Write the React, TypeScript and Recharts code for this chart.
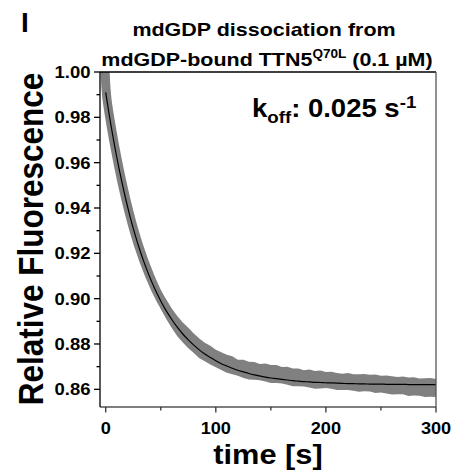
import React from 'react';
import { ComposedChart, Line, Area, XAxis, YAxis, ReferenceLine } from 'recharts';

const FONT = '"Liberation Sans", Arial, Helvetica, sans-serif';

// time [s]
const timeS = [
  -1, -0.5, 0, 1, 2, 3, 4, 6, 8, 10, 12, 15, 18, 21, 24, 27, 30, 35, 40, 45, 50,
  55, 60, 65, 70, 75, 80, 85, 90, 95, 100, 105, 110, 115, 120, 125, 130, 135, 140,
  145, 150, 155, 160, 165, 170, 175, 180, 185, 190, 195, 200, 205, 210, 215, 220,
  225, 230, 235, 240, 245, 250, 255, 260, 265, 270, 275, 280, 285, 290, 295, 300,
];

// measured fluorescence band (lower / upper edge of the grey trace)
const fluoLow = [
  1.0052, 0.9992, 0.9937, 0.9877, 0.9842, 0.981, 0.978, 0.9723, 0.9669, 0.9618, 0.9569,
  0.9499, 0.9434, 0.9373, 0.9316, 0.9262, 0.9212, 0.9136, 0.9068, 0.9008, 0.8955,
  0.891, 0.8871, 0.8834, 0.8807, 0.8781, 0.876, 0.8737, 0.8724, 0.8709, 0.8697,
  0.8685, 0.8673, 0.8666, 0.866, 0.865, 0.8643, 0.8642, 0.864, 0.8634, 0.8628,
  0.8628, 0.8626, 0.862, 0.8613, 0.8613, 0.8612, 0.8608, 0.8602, 0.8604, 0.8606,
  0.8602, 0.8597, 0.8597, 0.8597, 0.8594, 0.8589, 0.8591, 0.859, 0.8584, 0.8586,
  0.8582, 0.8577, 0.8578, 0.8578, 0.8571, 0.8573, 0.8572, 0.8566, 0.8567, 0.8566,
];
const fluoHigh = [
  1.0068, 1.0008, 0.9953, 0.9893, 0.9858, 0.9826, 0.9796, 0.9739, 0.9685, 0.9634, 0.9585,
  0.9517, 0.9454, 0.9397, 0.9344, 0.9296, 0.9252, 0.9188, 0.9132, 0.908, 0.9035,
  0.8996, 0.8957, 0.8924, 0.8895, 0.8872, 0.8846, 0.8824, 0.8806, 0.8792, 0.8775,
  0.8764, 0.8752, 0.8746, 0.8731, 0.8731, 0.8722, 0.8721, 0.8712, 0.8714, 0.8707,
  0.8707, 0.8698, 0.87, 0.8692, 0.8692, 0.8684, 0.8687, 0.8681, 0.8683, 0.8676,
  0.8677, 0.8672, 0.8669, 0.8672, 0.8666, 0.8666, 0.8668, 0.8664, 0.8665, 0.866,
  0.8661, 0.8658, 0.8654, 0.8657, 0.8652, 0.8653, 0.8648, 0.8649, 0.865, 0.8645,
];
// single-exponential fit (black line)
const fitValues: (number | null)[] = [
  null, null, 0.991, 0.9878, 0.9847, 0.9817, 0.9787, 0.973, 0.9676, 0.9625, 0.9576,
  0.9507, 0.9443, 0.9383, 0.9328, 0.9277, 0.9229, 0.9158, 0.9095, 0.9039, 0.899,
  0.8946, 0.8908, 0.8874, 0.8844, 0.8818, 0.8795, 0.8774, 0.8756, 0.874, 0.8726,
  0.8713, 0.8703, 0.8693, 0.8684, 0.8677, 0.867, 0.8664, 0.8659, 0.8654, 0.865,
  0.8647, 0.8644, 0.8641, 0.8638, 0.8636, 0.8634, 0.8633, 0.8631, 0.863, 0.8629,
  0.8628, 0.8627, 0.8626, 0.8625, 0.8625, 0.8624, 0.8624, 0.8623, 0.8623, 0.8623,
  0.8622, 0.8622, 0.8622, 0.8622, 0.8621, 0.8621, 0.8621, 0.8621, 0.8621, 0.8621,
];

const xTicks = [0, 50, 100, 150, 200, 250, 300];
const yTicks = [0.86, 0.87, 0.88, 0.89, 0.9, 0.91, 0.92, 0.93, 0.94, 0.95, 0.96, 0.97, 0.98, 0.99, 1.0];

const data = timeS.map((t, i) => ({
  t,
  mid: (fluoLow[i] + fluoHigh[i]) / 2,
  range: [fluoLow[i], fluoHigh[i]],
  fit: fitValues[i],
}));

function YTick(props: any) {
  const { x, y, payload } = props;
  const v = payload.value as number;
  const major = Math.round(v * 100) % 2 === 0;
  return (
    <g>
      <line x1={x} x2={x - (major ? 6 : 3.5)} y1={y} y2={y} stroke="#000" strokeWidth={1.3} />
      {major && (
        <text
          transform={`translate(${x - 9.5},${y}) scale(1.12,1)`}
          textAnchor="end"
          dy="0.36em"
          fontSize={16.5}
          fontWeight="bold"
          fontFamily={FONT}
          fill="#000"
        >
          {v.toFixed(2)}
        </text>
      )}
    </g>
  );
}

function XTick(props: any) {
  const { x, y, payload } = props;
  const v = payload.value as number;
  const major = v % 100 === 0;
  return (
    <g>
      <line x1={x} x2={x} y1={y} y2={y + (major ? 5.5 : 3.5)} stroke="#333" strokeWidth={1.3} />
      {major && (
        <text
          transform={`translate(${x},${y + 27}) scale(1.1,1)`}
          textAnchor="middle"
          fontSize={16.5}
          fontWeight="bold"
          fontFamily={FONT}
          fill="#000"
        >
          {v}
        </text>
      )}
    </g>
  );
}

export default function App() {
  return (
    <div style={{ position: 'absolute', left: 0, top: 0, width: 470, height: 472, background: '#fff' }}>
      <ComposedChart
        width={470}
        height={472}
        data={data}
        margin={{ top: 72, right: 34, bottom: 0, left: 0 }}
      >
        <XAxis
          type="number"
          dataKey="t"
          domain={[-5.2, 300]}
          ticks={xTicks}
          interval={0}
          allowDataOverflow
          height={65}
          tickSize={0}
          tickMargin={0}
          tickLine={false}
          axisLine={{ stroke: '#555', strokeWidth: 1.3 }}
          tick={(p: any) => <XTick {...p} />}
        />
        <YAxis
          type="number"
          domain={[0.8522, 1.0]}
          ticks={yTicks}
          interval={0}
          allowDataOverflow
          width={100}
          tickSize={0}
          tickMargin={0}
          tickLine={false}
          axisLine={{ stroke: '#000', strokeWidth: 1.3 }}
          tick={(p: any) => <YTick {...p} />}
        />
        <Area
          type="linear"
          dataKey="range"
          stroke="none"
          fill="#808080"
          fillOpacity={1}
          isAnimationActive={false}
          dot={false}
          activeDot={false}
        />
        <Line
          type="linear"
          dataKey="mid"
          stroke="#808080"
          strokeWidth={9}
          strokeLinejoin="round"
          dot={false}
          activeDot={false}
          isAnimationActive={false}
        />
        <Line
          type="monotone"
          dataKey="fit"
          stroke="#000"
          strokeWidth={1.2}
          dot={false}
          activeDot={false}
          isAnimationActive={false}
        />
        <ReferenceLine y={1.0} stroke="#000" strokeWidth={1.3} />
        <ReferenceLine x={300} stroke="#555" strokeWidth={1.3} />
      </ComposedChart>
      <svg
        width={470}
        height={472}
        style={{ position: 'absolute', left: 0, top: 0, pointerEvents: 'none' }}
        fontFamily={FONT}
        fontWeight="bold"
        fill="#000"
      >
        <text x={21} y={31.5} fontSize={28}>I</text>
        <text transform="translate(264,36) scale(1.13,1)" textAnchor="middle" fontSize={19}>
          mdGDP dissociation from
        </text>
        <text transform="translate(267,65.5) scale(1.13,1)" textAnchor="middle" fontSize={19}>
          mdGDP-bound TTN5<tspan fontSize={12} dy={-8}>Q70L</tspan>
          <tspan dy={8}> (0.1 µM)</tspan>
        </text>
        <text transform="translate(252,116.5) scale(1.1,1)" fontSize={25}>
          k<tspan fontSize={17} dy={6.5}>off</tspan>
          <tspan dy={-6.5}>: 0.025 s</tspan>
          <tspan fontSize={17} dy={-9}>-1</tspan>
        </text>
        <text transform="translate(42.5,239) scale(1.12,1) rotate(-90)" textAnchor="middle" fontSize={31.5}>
          Relative Fluorescence
        </text>
        <text transform="translate(268,463.5) scale(1.14,1)" textAnchor="middle" fontSize={27}>
          time [s]
        </text>
      </svg>
    </div>
  );
}
